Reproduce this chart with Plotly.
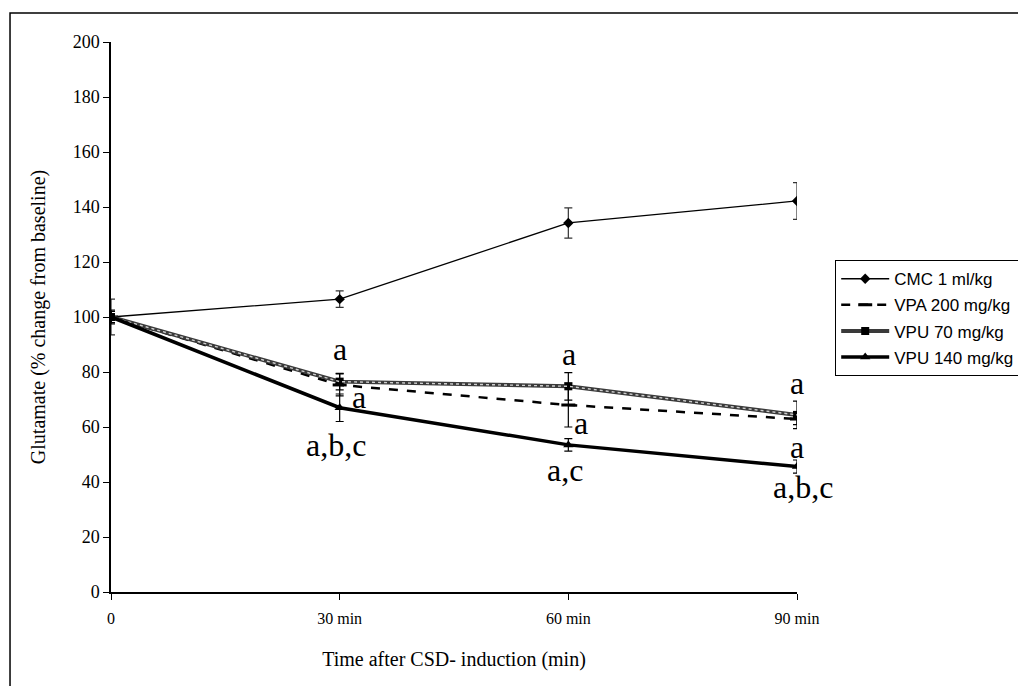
import plotly.graph_objects as go

# ---- data ----
times = [0, 30, 60, 90]
tick_text = ["0", "30 min", "60 min", "90 min"]

cmc_mean = [100, 106.5, 134.2, 142.2]
cmc_err = [6.5, 3.0, 5.5, 6.7]

vpa_mean = [100, 75.3, 68.0, 62.9]
vpa_err = [2.0, 4.0, 8.0, 2.0]

vpu70_mean = [100, 76.5, 74.8, 64.4]
vpu70_err = [2.5, 3.0, 5.0, 5.0]

vpu140_mean = [100, 67.0, 53.5, 45.6]
vpu140_err = [2.0, 5.0, 2.3, 2.4]

# significance letters: (x, y, text, pixel x-shift)
sig_labels = [
    (30, 88.4, "a", 0), (30, 70.9, "a", 19), (30, 53.5, "a,b,c", -4),
    (60, 86.5, "a", 1), (60, 61.5, "a", 13), (60, 44.4, "a,c", -3),
    (90, 76.0, "a", 0), (90, 52.7, "a", 0), (90, 38.2, "a,b,c", 6),
]

serif = "Liberation Serif, Times New Roman, serif"
sans = "Liberation Sans, Arial, sans-serif"

fig = go.Figure()

def err(vals, color="black"):
    return dict(type="data", array=vals, visible=True, color=color,
                thickness=1.2, width=4)

fig.add_trace(go.Scatter(
    x=times, y=cmc_mean, name="CMC 1 ml/kg", mode="lines+markers",
    legendgroup="g1",
    line=dict(color="black", width=1.3),
    marker=dict(symbol="diamond", size=8, color="black"),
    error_y=err(cmc_err, "#333"),
))
fig.add_trace(go.Scatter(
    x=times, y=vpa_mean, name="VPA 200 mg/kg", mode="lines+markers",
    legendgroup="g2",
    line=dict(color="black", width=2.5, dash="dash"),
    marker=dict(symbol="line-ew-open", size=10, line=dict(color="black", width=3)),
    error_y=err(vpa_err),
))
fig.add_trace(go.Scatter(
    x=times, y=vpu70_mean, name="VPU 70 mg/kg", mode="lines+markers",
    legendgroup="g3",
    line=dict(color="#3a3a3a", width=4),
    marker=dict(symbol="square", size=8, color="black"),
    error_y=err(vpu70_err),
))
fig.add_trace(go.Scatter(
    x=times, y=vpu70_mean, mode="lines", showlegend=False, hoverinfo="skip",
    legendgroup="g3",
    line=dict(color="#cfcfcf", width=1.4, dash="dot"),
))
fig.add_trace(go.Scatter(
    x=times, y=vpu140_mean, name="VPU 140 mg/kg", mode="lines+markers",
    legendgroup="g4",
    line=dict(color="black", width=3.5),
    marker=dict(symbol="triangle-up", size=9, color="black"),
    error_y=err(vpu140_err),
))

for x, y, t, dx in sig_labels:
    fig.add_annotation(x=x, y=y, text=t, showarrow=False, xref="x", yref="y",
                       xshift=dx,
                       font=dict(family=serif, size=32, color="black"))

# outer frame
fig.add_shape(type="rect", xref="paper", yref="paper",
              x0=-0.1472, x1=1.5, y0=-0.5, y1=1.0527,
              line=dict(color="black", width=1.5), layer="below")

fig.update_layout(
    width=1018, height=686,
    margin=dict(l=111, r=221, t=42, b=94),
    paper_bgcolor="white", plot_bgcolor="white",
    showlegend=True,
    legend=dict(
        xref="container", yref="container",
        x=835 / 1018, y=1 - 260 / 686, xanchor="left", yanchor="top",
        bgcolor="white", bordercolor="black", borderwidth=1.2,
        font=dict(family=sans, size=17, color="black"),
        itemwidth=48, tracegroupgap=1,
    ),
    xaxis=dict(
        range=[0, 90], tickvals=times, ticktext=tick_text,
        showgrid=False, zeroline=False, showline=True, linecolor="black",
        linewidth=1.5, ticks="outside", ticklen=6, tickcolor="black",
        ticklabelstandoff=5,
        tickfont=dict(family=serif, size=16, color="black"),
        title=dict(text="Time after CSD- induction (min)", standoff=26,
                   font=dict(family=serif, size=20, color="black")),
    ),
    yaxis=dict(
        range=[0, 200], tickvals=list(range(0, 201, 20)),
        showgrid=False, zeroline=False, showline=True, linecolor="black",
        linewidth=1.5, ticks="outside", ticklen=6, tickcolor="black",
        tickfont=dict(family=serif, size=18, color="black"),
        title=dict(text="Glutamate (% change from baseline)", standoff=22,
                   font=dict(family=serif, size=20, color="black")),
    ),
)

fig.write_html("out.html")
